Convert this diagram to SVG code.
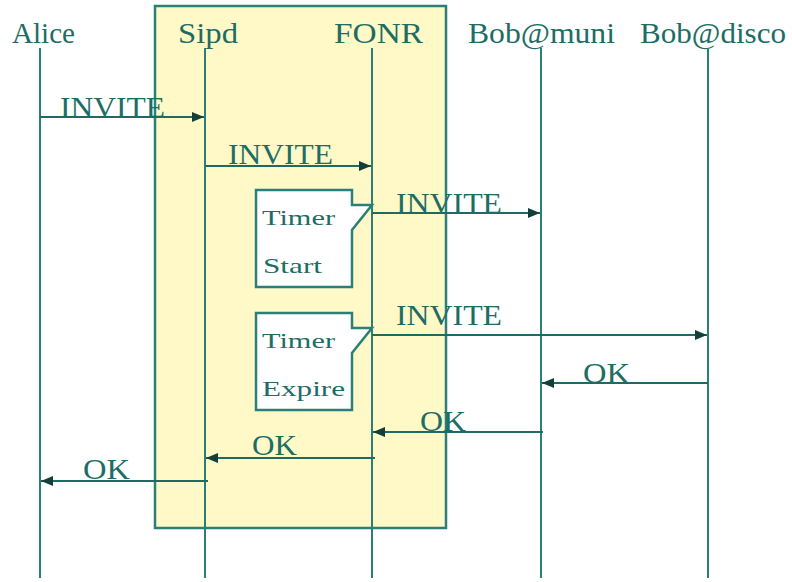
<svg xmlns="http://www.w3.org/2000/svg" width="792" height="582" viewBox="0 0 792 582">
<style>
text{font-family:"Liberation Serif","Times New Roman",serif;fill:#1d6d65;}
.hdr{font-size:29px;}
.lbl{font-size:30px;}
.tm{font-size:22px;}
.life{stroke:#2a7f78;stroke-width:2;fill:none;}
.msg{stroke:#1f6a63;stroke-width:2;fill:none;}
.box{fill:#fff9c8;stroke:#2a7f78;stroke-width:2.5;}
.note{fill:#ffffff;stroke:#2a7f78;stroke-width:2.5;}
</style>
<defs>
<marker id="ah" viewBox="0 0 12 10" refX="12" refY="5" markerWidth="12" markerHeight="10" markerUnits="userSpaceOnUse" orient="auto">
<path d="M0,0 L12,5 L0,10 Z" fill="#123f3a"/>
</marker>
</defs>
<rect width="792" height="582" fill="#ffffff"/>
<g id="proxy-box"><rect class="box" x="155" y="6" width="291" height="522"/></g>
<g id="alice"><text class="hdr" x="12" y="43" textLength="63" lengthAdjust="spacingAndGlyphs">Alice</text><line class="life" x1="40" y1="48" x2="40" y2="578"/></g>
<g id="sipd"><text class="hdr" x="178" y="43" textLength="60" lengthAdjust="spacingAndGlyphs">Sipd</text><line class="life" x1="205" y1="48" x2="205" y2="578"/></g>
<g id="fonr"><text class="hdr" x="334" y="43" textLength="89" lengthAdjust="spacingAndGlyphs">FONR</text><line class="life" x1="372" y1="48" x2="372" y2="578"/></g>
<g id="bob-muni"><text class="hdr" x="468" y="43" textLength="147" lengthAdjust="spacingAndGlyphs">Bob@muni</text><line class="life" x1="541" y1="48" x2="541" y2="578"/></g>
<g id="bob-disco"><text class="hdr" x="640" y="43" textLength="146" lengthAdjust="spacingAndGlyphs">Bob@disco</text><line class="life" x1="708" y1="48" x2="708" y2="578"/></g>
<g id="timer-start">
<path class="note" d="M256,190 H352 V205 H372 L352,230 V287 H256 Z"/>
<text class="tm" x="262" y="225" textLength="73" lengthAdjust="spacingAndGlyphs">Timer</text>
<text class="tm" x="263" y="273" textLength="59" lengthAdjust="spacingAndGlyphs">Start</text>
</g>
<g id="timer-expire">
<path class="note" d="M256,313 H352 V328 H372 L352,353 V410 H256 Z"/>
<text class="tm" x="262" y="348" textLength="73" lengthAdjust="spacingAndGlyphs">Timer</text>
<text class="tm" x="262" y="396" textLength="83" lengthAdjust="spacingAndGlyphs">Expire</text>
</g>
<g id="connectors">
<line class="msg" x1="40" y1="117" x2="204" y2="117" marker-end="url(#ah)"/>
<text class="lbl" x="60" y="117" textLength="105" lengthAdjust="spacingAndGlyphs">INVITE</text>
<line class="msg" x1="205" y1="166" x2="371" y2="166" marker-end="url(#ah)"/>
<text class="lbl" x="228" y="164" textLength="105" lengthAdjust="spacingAndGlyphs">INVITE</text>
<line class="msg" x1="372" y1="213" x2="540" y2="213" marker-end="url(#ah)"/>
<text class="lbl" x="396" y="213" textLength="106" lengthAdjust="spacingAndGlyphs">INVITE</text>
<line class="msg" x1="372" y1="335" x2="707" y2="335" marker-end="url(#ah)"/>
<text class="lbl" x="396" y="325" textLength="106" lengthAdjust="spacingAndGlyphs">INVITE</text>
<line class="msg" x1="708" y1="383" x2="542" y2="383" marker-end="url(#ah)"/>
<text class="lbl" x="583" y="383" textLength="47" lengthAdjust="spacingAndGlyphs">OK</text>
<line class="msg" x1="543" y1="432" x2="373" y2="432" marker-end="url(#ah)"/>
<text class="lbl" x="420" y="431" textLength="46" lengthAdjust="spacingAndGlyphs">OK</text>
<line class="msg" x1="375" y1="458" x2="206" y2="458" marker-end="url(#ah)"/>
<text class="lbl" x="252" y="455" textLength="45" lengthAdjust="spacingAndGlyphs">OK</text>
<line class="msg" x1="208" y1="481" x2="41" y2="481" marker-end="url(#ah)"/>
<text class="lbl" x="83" y="479" textLength="47" lengthAdjust="spacingAndGlyphs">OK</text>
</g>
</svg>
